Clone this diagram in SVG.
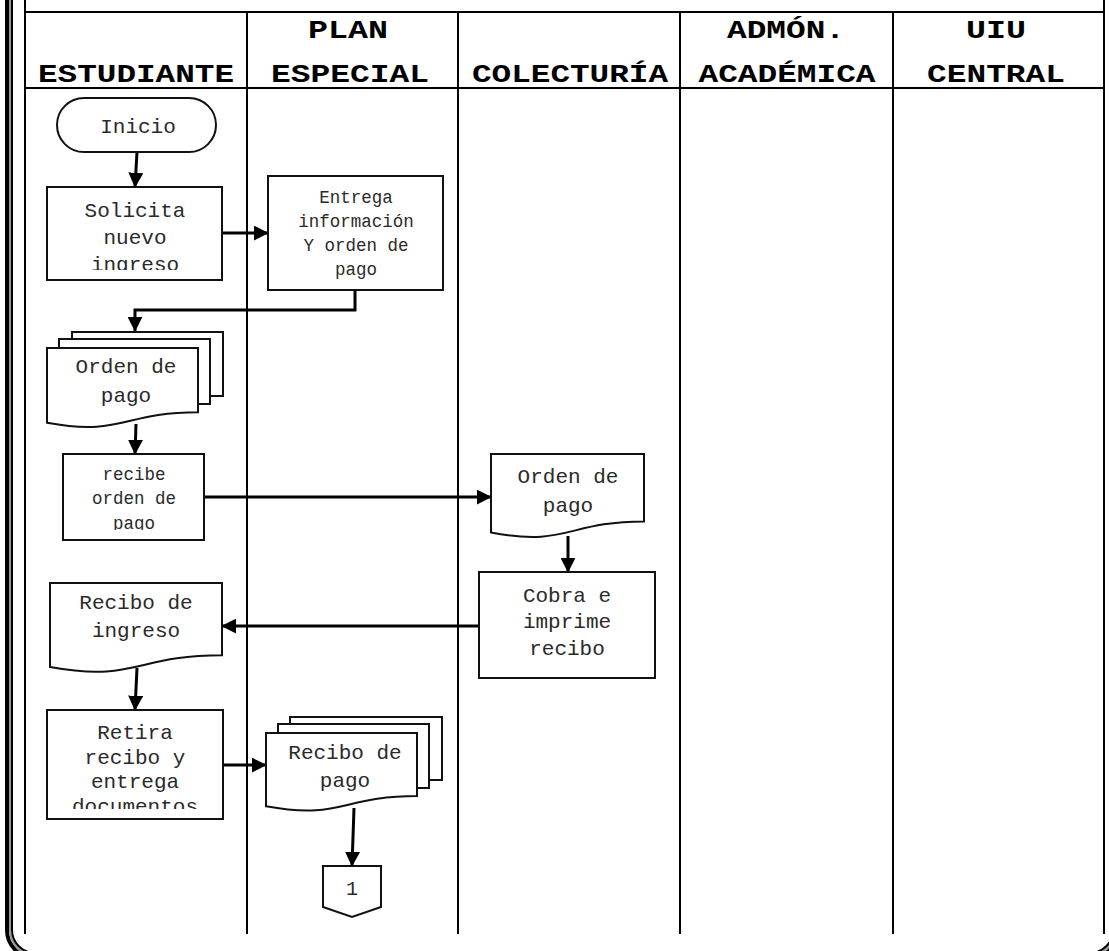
<svg xmlns="http://www.w3.org/2000/svg" width="1109" height="951" viewBox="0 0 1109 951">
<style>
.hd{font-family:"Liberation Mono","Courier New",monospace;font-weight:bold;font-size:25px;text-anchor:middle;fill:#000}
.t{font-family:"Liberation Mono","Courier New",monospace;font-size:21px;text-anchor:middle;fill:#2a2a2a}
.s{font-size:17.5px}
.box{fill:#fff;stroke:#111;stroke-width:2}
.lane{stroke:#000;stroke-width:2;fill:none}
.cn{stroke:#000;stroke-width:3;fill:none;marker-end:url(#ah)}
</style>
<defs>
<marker id="ah" viewBox="0 0 10 10" refX="9.5" refY="5" markerWidth="5" markerHeight="5" orient="auto" markerUnits="strokeWidth">
<path d="M0,0 L10,5 L0,10 Z" fill="#000"/>
</marker>
<clipPath id="c1"><rect x="40" y="180" width="190" height="90"/></clipPath>
<clipPath id="c2"><rect x="55" y="450" width="160" height="80"/></clipPath>
<clipPath id="c3"><rect x="40" y="705" width="190" height="104"/></clipPath>
</defs>
<rect width="1109" height="951" fill="#fff"/>
<g id="frame" fill="none">
<path d="M7,-10 V930 A28,28 0 0 0 35,958 H1090 A28,28 0 0 0 1118,930 V-10" stroke="#000" stroke-width="4"/>
<path d="M10,-10 V930 A25,25 0 0 0 35,955 H1090 A25,25 0 0 0 1115,930 V-10" stroke="#999" stroke-width="2"/>
<path d="M12,-10 V930 A23,23 0 0 0 35,953 H1090 A23,23 0 0 0 1113,930 V-10" stroke="#000" stroke-width="2"/>
</g>
<g id="lanes">
<line class="lane" x1="25" y1="0" x2="25" y2="934"/>
<line class="lane" x1="1104" y1="0" x2="1104" y2="934"/>
<line class="lane" x1="247" y1="12" x2="247" y2="934"/>
<line class="lane" x1="458" y1="12" x2="458" y2="934"/>
<line class="lane" x1="680" y1="12" x2="680" y2="934"/>
<line class="lane" x1="893" y1="12" x2="893" y2="934"/>
<line class="lane" x1="24" y1="12" x2="1105" y2="12"/>
<line class="lane" x1="24" y1="88" x2="1105" y2="88"/>
<text class="hd" x="136" y="82" textLength="196" lengthAdjust="spacingAndGlyphs">ESTUDIANTE</text>
<text class="hd" x="348" y="38" textLength="80" lengthAdjust="spacingAndGlyphs">PLAN</text>
<text class="hd" x="350" y="82" textLength="158" lengthAdjust="spacingAndGlyphs">ESPECIAL</text>
<text class="hd" x="570" y="82" textLength="196" lengthAdjust="spacingAndGlyphs">COLECTURÍA</text>
<text class="hd" x="786" y="38" textLength="118" lengthAdjust="spacingAndGlyphs">ADMÓN.</text>
<text class="hd" x="787" y="82" textLength="177" lengthAdjust="spacingAndGlyphs">ACADÉMICA</text>
<text class="hd" x="996" y="38" textLength="60" lengthAdjust="spacingAndGlyphs">UIU</text>
<text class="hd" x="996" y="82" textLength="138" lengthAdjust="spacingAndGlyphs">CENTRAL</text>
</g>
<g id="connectors">
<path class="cn" d="M137,152 L135,187"/>
<path class="cn" d="M222,233 H268"/>
<path class="cn" d="M355,290 V310 H135 V331"/>
<path class="cn" d="M136,424 L135,454"/>
<path class="cn" d="M204,497 H491"/>
<path class="cn" d="M568,536 V572"/>
<path class="cn" d="M479,626 H222"/>
<path class="cn" d="M137,668 L135,710"/>
<path class="cn" d="M223,765 H266"/>
<path class="cn" d="M354,808 L352,866"/>
</g>
<g id="inicio">
<rect class="box" x="57" y="98" width="159" height="54" rx="27"/>
<text class="t" x="138" y="133">Inicio</text>
</g>
<g id="solicita">
<rect class="box" x="47" y="187" width="175" height="93"/>
<g clip-path="url(#c1)">
<text class="t" x="135" y="217">Solicita</text>
<text class="t" x="135" y="244">nuevo</text>
<text class="t" x="135" y="271">ingreso</text>
</g>
</g>
<g id="entrega">
<rect class="box" x="268" y="176" width="175" height="114"/>
<text class="t s" x="356" y="203">Entrega</text>
<text class="t s" x="356" y="227">información</text>
<text class="t s" x="356" y="251">Y orden de</text>
<text class="t s" x="356" y="275">pago</text>
</g>
<g id="orden-pago-est">
<rect class="box" x="72" y="332" width="151" height="64"/>
<rect class="box" x="59" y="339" width="151" height="65"/>
<path class="box" d="M47,348 H198 V412.2 C122.5,412.2 122.5,436.6 47,422.7 Z"/>
<text class="t" x="126" y="373">Orden de</text>
<text class="t" x="126" y="402">pago</text>
</g>
<g id="recibe">
<rect class="box" x="63" y="454" width="141" height="86"/>
<g clip-path="url(#c2)">
<text class="t s" x="134" y="480">recibe</text>
<text class="t s" x="134" y="504">orden de</text>
<text class="t s" x="134" y="529">pago</text>
</g>
</g>
<g id="orden-pago-col">
<path class="box" d="M491,454 H644 V521.4 C567.5,521.4 567.5,547 491,532.5 Z"/>
<text class="t" x="568" y="483">Orden de</text>
<text class="t" x="568" y="512">pago</text>
</g>
<g id="cobra">
<rect class="box" x="479" y="572" width="176" height="106"/>
<text class="t" x="567" y="602">Cobra e</text>
<text class="t" x="567" y="628">imprime</text>
<text class="t" x="567" y="655">recibo</text>
</g>
<g id="recibo-ingreso">
<path class="box" d="M50,583 H222 V655.2 C136,655.2 136,682.6 50,667 Z"/>
<text class="t" x="136" y="609">Recibo de</text>
<text class="t" x="136" y="637">ingreso</text>
</g>
<g id="retira">
<rect class="box" x="47" y="710" width="176" height="109"/>
<g clip-path="url(#c3)">
<text class="t" x="135" y="739">Retira</text>
<text class="t" x="135" y="764">recibo y</text>
<text class="t" x="135" y="788">entrega</text>
<text class="t" x="135" y="813">documentos</text>
</g>
</g>
<g id="recibo-pago">
<rect class="box" x="290" y="717" width="152" height="63"/>
<rect class="box" x="278" y="724" width="151" height="64"/>
<path class="box" d="M266,733 H417 V796 C341.5,796 341.5,820 266,806.3 Z"/>
<text class="t" x="345" y="759">Recibo de</text>
<text class="t" x="345" y="787">pago</text>
</g>
<g id="conector-1">
<path class="box" d="M323,866 H381 V907 L352,917 L323,907 Z"/>
<text class="t" x="352" y="895" style="font-size:20px">1</text>
</g>
</svg>
